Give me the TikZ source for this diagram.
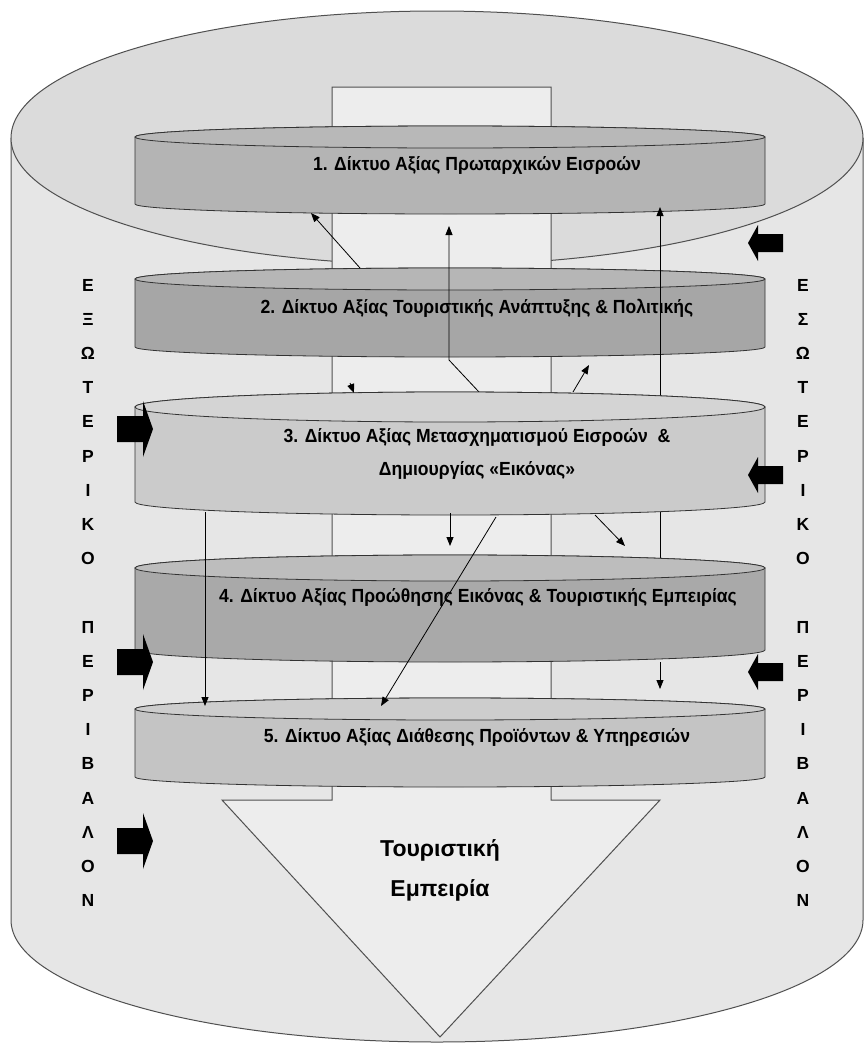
\documentclass[tikz,border=0pt]{standalone}
\usepackage{fontspec}
\setmainfont{Liberation Sans}
\newfontfamily\labelfont{Liberation Sans}[FakeStretch=0.925]
\usetikzlibrary{arrows.meta}
\definecolor{outerbody}{HTML}{E6E6E6}
\definecolor{outertop}{HTML}{DBDBDB}
\definecolor{colfill}{HTML}{EDEDED}
\definecolor{edgegray}{HTML}{505050}
\definecolor{dAside}{HTML}{B4B4B4}\definecolor{dAtop}{HTML}{B8B8B8}
\definecolor{dBside}{HTML}{A6A6A6}\definecolor{dBtop}{HTML}{B6B6B6}
\definecolor{dCside}{HTML}{CBCBCB}\definecolor{dCtop}{HTML}{D4D4D4}
\definecolor{dDside}{HTML}{A9A9A9}\definecolor{dDtop}{HTML}{BDBDBD}
\definecolor{dEside}{HTML}{C4C4C4}\definecolor{dEtop}{HTML}{CDCDCD}
\tikzset{
  flowarrow/.style={draw=black, line width=0.8pt, -{Triangle[length=9pt,width=7pt]}},
  disklabel/.style={font=\labelfont\bfseries\fontsize{19}{33}\selectfont, align=center, inner sep=0pt},
  sideletter/.style={font=\bfseries\fontsize{17.5}{19}\selectfont, inner sep=0pt},
  bigblock/.style={fill=black},
  expword/.style={font=\bfseries\fontsize{23}{40}\selectfont, align=center, inner sep=0pt},
}
% disk: #1 top centre y, #2 top ry, #3 bottom centre y, #4 bottom ry, #5 side colour, #6 top colour
\newcommand{\mydisk}[6]{%
  \filldraw[fill=#5, draw=black!80, line width=0.8pt]
    (135,-#1) -- (135,-#3) arc[start angle=180, end angle=360, x radius=315, y radius=#4]
    -- (765,-#1) arc[start angle=0, end angle=180, x radius=315, y radius=#2] -- cycle;
  \filldraw[fill=#6, draw=black!80, line width=0.8pt] (450,-#1) ellipse[x radius=315, y radius=#2];
}
\begin{document}
\begin{tikzpicture}[x=1pt,y=1pt]
\useasboundingbox (0,0) rectangle (863,-1044);
% outer cylinder
\fill[outerbody] (11,-138) -- (11,-920) arc[start angle=180, end angle=360, x radius=426, y radius=122] -- (863,-138) -- cycle;
\draw[edgegray, line width=1pt] (11,-138) -- (11,-920) arc[start angle=180, end angle=360, x radius=426, y radius=122] -- (863,-138);
\filldraw[fill=outertop, draw=edgegray, line width=1pt] (437,-138) ellipse[x radius=426, y radius=127];
% central column and output arrow
\filldraw[fill=colfill, draw=edgegray, line width=1pt]
  (332,-87) -- (551,-87) -- (551,-800) -- (660,-800) -- (440,-1037) -- (222,-800) -- (332,-800) -- cycle;
% disks 1 and 2
\mydisk{137}{11}{204}{10}{dAside}{dAtop}
\mydisk{279}{11}{347}{10}{dBside}{dBtop}
% connectors crossing disk 2
\coordinate (a1s) at (360,-268); \coordinate (a1e) at (311,-213);
\draw[flowarrow] (a1s) -- (a1e);
\coordinate (a2s) at (479,-392); \coordinate (a2m) at (449,-360); \coordinate (a2e) at (449,-226);
\draw[flowarrow] (a2s) -- (a2m) -- (a2e);
\coordinate (a3s) at (660,-558); \coordinate (a3e) at (660,-207);
\draw[flowarrow] (a3s) -- (a3e);
% disks 3, 4, 5
\mydisk{407}{15}{502}{13}{dCside}{dCtop}
\mydisk{568}{13}{650}{12}{dDside}{dDtop}
\mydisk{709}{11}{777}{10}{dEside}{dEtop}
% remaining connectors
\coordinate (a4s) at (350,-383); \coordinate (a4e) at (354,-393);
\draw[flowarrow] (a4s) -- (a4e);
\coordinate (a5s) at (573,-392); \coordinate (a5e) at (589,-365);
\draw[flowarrow] (a5s) -- (a5e);
\coordinate (a6s) at (450,-513); \coordinate (a6e) at (450,-546);
\draw[flowarrow] (a6s) -- (a6e);
\coordinate (a7s) at (595,-515); \coordinate (a7e) at (625,-546);
\draw[flowarrow] (a7s) -- (a7e);
\coordinate (a8s) at (496,-517); \coordinate (a8e) at (381,-706);
\draw[flowarrow] (a8s) -- (a8e);
\coordinate (a9s) at (205,-512); \coordinate (a9e) at (205,-706);
\draw[flowarrow] (a9s) -- (a9e);
\coordinate (a10s) at (660,-662); \coordinate (a10e) at (660,-689);
\draw[flowarrow] (a10s) -- (a10e);
% block arrows, right side (pointing left)
\foreach \yy in {243,475,672}{
  \fill[bigblock] (748,-\yy) -- (758,-\yy+18) -- (758,-\yy+9) -- (783,-\yy+9) -- (783,-\yy-9) -- (758,-\yy-9) -- (758,-\yy-18) -- cycle;
}
% block arrows, left side (pointing right)
\foreach \yy in {429,662,841}{
  \fill[bigblock] (153,-\yy) -- (143,-\yy+28) -- (143,-\yy+13) -- (117,-\yy+13) -- (117,-\yy-13) -- (143,-\yy-13) -- (143,-\yy-28) -- cycle;
}
% disk labels
\node[disklabel] (t1) at (477,-165) {1. Δίκτυο Αξίας Πρωταρχικών Εισροών};
\node[disklabel] (t2) at (477,-308) {2. Δίκτυο Αξίας Τουριστικής Ανάπτυξης \& Πολιτικής};
\node[disklabel] (t3) at (477,-454) {3. Δίκτυο Αξίας Μετασχηματισμού Εισροών\ \ \&\\Δημιουργίας «Εικόνας»};
\node[disklabel] (t4) at (478,-597) {4. Δίκτυο Αξίας Προώθησης Εικόνας \& Τουριστικής Εμπειρίας};
\node[disklabel] (t5) at (477,-737) {5. Δίκτυο Αξίας Διάθεσης Προϊόντων \& Υπηρεσιών};
\node[expword] (exp) at (440,-870) {Τουριστική\\Εμπειρία};
% side letters
\foreach \ch [count=\k from 0] in {Ε,Ξ,Ω,Τ,Ε,Ρ,Ι,Κ,Ο,{},Π,Ε,Ρ,Ι,Β,Α,Λ,Ο,Ν}{
  \node[sideletter] (L\k) at (88,-285-34.2*\k) {\ch};
}
\foreach \ch [count=\k from 0] in {Ε,Σ,Ω,Τ,Ε,Ρ,Ι,Κ,Ο,{},Π,Ε,Ρ,Ι,Β,Α,Λ,Ο,Ν}{
  \node[sideletter] (R\k) at (803,-285-34.2*\k) {\ch};
}
\end{tikzpicture}
\end{document}
